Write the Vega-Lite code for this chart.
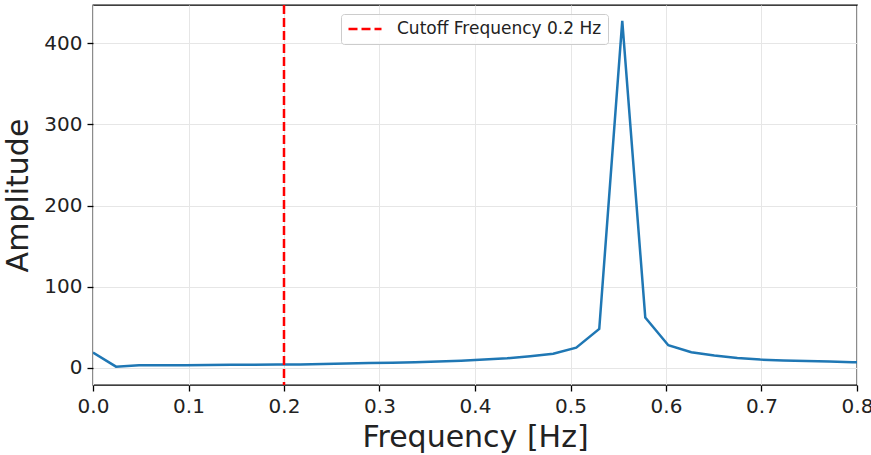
{
  "$schema": "https://vega.github.io/schema/vega-lite/v6.json",
  "autosize": "none",
  "padding": {"left": 93, "top": 5, "right": 14, "bottom": 70},
  "width": 764,
  "height": 380,
  "background": "white",
  "config": {
    "font": "DejaVu Sans",
    "view": {"stroke": "black", "strokeWidth": 1.3},
    "axis": {
      "domain": false,
      "grid": true,
      "gridColor": "#e6e6e6",
      "gridWidth": 1,
      "tickColor": "black",
      "tickWidth": 1.3,
      "tickSize": 6,
      "labelFont": "DejaVu Sans",
      "labelFontSize": 20,
      "labelColor": "#222",
      "labelPadding": 5,
      "labelFlush": false,
      "labelOverlap": false,
      "titleFont": "DejaVu Sans",
      "titleFontSize": 30,
      "titleFontWeight": "normal",
      "titleColor": "#222"
    },
    "legend": {
      "labelFont": "DejaVu Sans",
      "labelFontSize": 17,
      "labelColor": "#222",
      "labelLimit": 500,
      "symbolType": "stroke",
      "symbolDash": [9, 4],
      "symbolStrokeWidth": 2.5,
      "symbolSize": 1089,
      "strokeColor": "#cccccc",
      "fillColor": "rgba(255,255,255,0.8)",
      "cornerRadius": 3,
      "padding": 6,
      "clipHeight": 18,
      "labelOffset": 14
    }
  },
  "layer": [
    {
      "data": {
        "values": [
          {"freq": 0.0, "amp": 19.0},
          {"freq": 0.0241, "amp": 1.6},
          {"freq": 0.0482, "amp": 3.3},
          {"freq": 0.0723, "amp": 3.4},
          {"freq": 0.0964, "amp": 3.4},
          {"freq": 0.1205, "amp": 3.5},
          {"freq": 0.1446, "amp": 3.8},
          {"freq": 0.1687, "amp": 4.0},
          {"freq": 0.1928, "amp": 4.2},
          {"freq": 0.2169, "amp": 4.4},
          {"freq": 0.241, "amp": 4.9},
          {"freq": 0.2651, "amp": 5.5},
          {"freq": 0.2892, "amp": 6.0},
          {"freq": 0.3133, "amp": 6.5},
          {"freq": 0.3373, "amp": 7.0},
          {"freq": 0.3614, "amp": 8.0},
          {"freq": 0.3855, "amp": 9.0},
          {"freq": 0.4096, "amp": 10.3},
          {"freq": 0.4337, "amp": 12.0},
          {"freq": 0.4578, "amp": 14.5},
          {"freq": 0.4819, "amp": 17.5},
          {"freq": 0.506, "amp": 25.0},
          {"freq": 0.5301, "amp": 48.0},
          {"freq": 0.5542, "amp": 427.5},
          {"freq": 0.5783, "amp": 62.0},
          {"freq": 0.6024, "amp": 28.0},
          {"freq": 0.6265, "amp": 19.3},
          {"freq": 0.6506, "amp": 15.2},
          {"freq": 0.6747, "amp": 12.3},
          {"freq": 0.6988, "amp": 10.3},
          {"freq": 0.7229, "amp": 9.3},
          {"freq": 0.747, "amp": 8.5},
          {"freq": 0.7711, "amp": 7.8},
          {"freq": 0.7952, "amp": 7.1},
          {"freq": 0.8193, "amp": 6.6}
        ]
      },
      "mark": {"type": "line", "color": "#1f77b4", "strokeWidth": 2.5, "clip": true},
      "encoding": {
        "x": {
          "field": "freq",
          "type": "quantitative",
          "title": "Frequency [Hz]",
          "scale": {"domain": [0, 0.8], "nice": false, "zero": false},
          "axis": {"values": [0, 0.1, 0.2, 0.3, 0.4, 0.5, 0.6, 0.7, 0.8], "format": ".1f", "titlePadding": 6}
        },
        "y": {
          "field": "amp",
          "type": "quantitative",
          "title": "Amplitude",
          "scale": {"domain": [-21, 447], "nice": false, "zero": false},
          "axis": {"values": [0, 100, 200, 300, 400], "titlePadding": 10}
        }
      }
    },
    {
      "data": {"values": [{"f": 0.2, "label": "Cutoff Frequency 0.2 Hz"}]},
      "mark": {"type": "rule", "strokeWidth": 2.5, "strokeDash": [9, 4]},
      "encoding": {
        "x": {"field": "f", "type": "quantitative"},
        "color": {
          "field": "label",
          "type": "nominal",
          "scale": {"range": ["#ff0000"]},
          "legend": {"title": null, "orient": "none", "legendX": 248, "legendY": 9}
        }
      }
    }
  ]
}
